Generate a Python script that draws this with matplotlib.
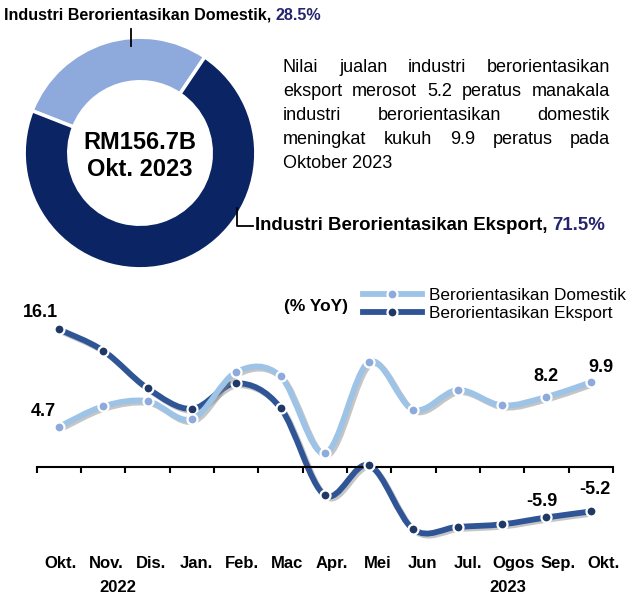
"""Donut of sales share plus smoothed YoY growth lines (domestic vs export)."""

import matplotlib

matplotlib.use("Agg")
import matplotlib.pyplot as plt
import numpy as np
from matplotlib import font_manager, patheffects
from matplotlib.lines import Line2D
from matplotlib.patches import PathPatch
from matplotlib.path import Path

months = ["Okt.", "Nov.", "Dis.", "Jan.", "Feb.", "Mac", "Apr.", "Mei",
          "Jun", "Jul.", "Ogos", "Sep.", "Okt."]
domestik = [4.7, 7.1, 7.7, 5.6, 11.1, 10.6, 1.6, 12.3, 6.7, 9.0, 7.2, 8.2, 9.9]
eksport = [16.1, 13.6, 9.2, 6.8, 9.8, 6.9, -3.3, 0.2, -7.3, -7.0, -6.7, -5.9, -5.2]
series_names = ["Berorientasikan Domestik", "Berorientasikan Eksport"]
years = ["2022", "2023"]

share_labels = ["Industri Berorientasikan Domestik", "Industri Berorientasikan Eksport"]
share_values = [28.5, 71.5]
total_lines = ["RM156.7B", "Okt. 2023"]

desc_lines = [
    "Nilai jualan industri berorientasikan",
    "eksport merosot 5.2 peratus manakala",
    "industri berorientasikan domestik",
    "meningkat kukuh 9.9 peratus pada",
    "Oktober 2023",
]

W, H = 637, 601
FONT = "Liberation Sans"
LIGHT_LINE = "#9DC3E6"
LIGHT_MARK = "#8EA9DB"
DARK_LINE = "#2F5597"
DARK_MARK = "#1F3864"
NAVY = "#0B2463"
PCT = "#25246E"

plt.rcParams["font.family"] = [FONT, "DejaVu Sans"]


def fx(px):
    return px / W


def fy(py):
    return 1 - py / H


def has_font(name):
    try:
        font_manager.findfont(name, fallback_to_default=False)
        return True
    except ValueError:
        return False


def smooth_path(xs, ys):
    pts = np.column_stack([xs, ys]).astype(float)
    ext = np.vstack([pts[0], pts, pts[-1]])
    verts = [pts[0]]
    codes = [Path.MOVETO]
    for i in range(len(pts) - 1):
        p0, p1, p2, p3 = ext[i], ext[i + 1], ext[i + 2], ext[i + 3]
        verts += [p1 + (p2 - p0) / 6, p2 - (p3 - p1) / 6, p2]
        codes += [Path.CURVE4] * 3
    return Path(verts, codes)


fig = plt.figure(figsize=(W / 100, H / 100), dpi=100)
renderer = fig.canvas.get_renderer()

# ---- donut ----
dax = fig.add_axes([fx(23), fy(270), 234 / W, 234 / H])
dax.pie(share_values, colors=[LIGHT_MARK, NAVY], startangle=56, counterclock=True,
        radius=1, wedgeprops=dict(width=0.385, edgecolor="white", linewidth=2.5))
dax.set_xlim(-1.01, 1.01)
dax.set_ylim(-1.01, 1.01)
dax.set_axis_off()

fig.text(fx(140), fy(142.5), total_lines[0], ha="center", va="center",
         fontsize=17, fontweight="bold")
fig.text(fx(140), fy(169), total_lines[1], ha="center", va="center",
         fontsize=17, fontweight="bold")

# leader lines
fig.add_artist(Line2D([fx(131), fx(131)], [fy(29), fy(46)], color="black", lw=1.3))
fig.add_artist(Line2D([fx(237), fx(237), fx(253)], [fy(208), fy(226), fy(226)],
                      color="black", lw=1.3))

if has_font("Liberation Sans Narrow"):
    dom_kw = dict(family=["Liberation Sans Narrow", FONT], fontsize=13.4)
else:
    dom_kw = dict(family=[FONT], fontsize=11.6)


def two_part_label(x, y, first, second, **kw):
    t1 = fig.text(fx(x), fy(y), first, ha="left", va="center", fontweight="bold", **kw)
    w = t1.get_window_extent(renderer).width
    fig.text(fx(x + w), fy(y), second, ha="left", va="center", fontweight="bold",
             color=PCT, **kw)


two_part_label(4, 15, f"{share_labels[0]}, ", f"{share_values[0]}%", **dom_kw)
two_part_label(255, 226, f"{share_labels[1]}, ", f"{share_values[1]}%", fontsize=13.4)

# ---- justified description ----
left, right = 283, 610
for k, line in enumerate(desc_lines):
    y = fy(68 + 23.8 * k)
    if k == len(desc_lines) - 1:
        fig.text(fx(left), y, line, ha="left", va="center", fontsize=13)
        continue
    words = line.split()
    texts = [fig.text(0, y, w, ha="left", va="center", fontsize=13) for w in words]
    widths = [t.get_window_extent(renderer).width for t in texts]
    gap = (right - left - sum(widths)) / (len(words) - 1)
    xpos = left
    for t, wd in zip(texts, widths):
        t.set_x(fx(xpos))
        xpos += wd + gap

# ---- line chart ----
ax = fig.add_axes([fx(36.8), fy(545), 576.1 / W, 255 / H])
x = np.arange(len(months))
ax.set_xlim(-0.5, len(months) - 0.5)
ax.set_ylim(-9.12, 20.7)

shadow = [patheffects.SimpleLineShadow(offset=(1.5, -1.5), shadow_color="#808080", alpha=0.45),
          patheffects.Normal()]

for vals, lc, mc, z in [(eksport, DARK_LINE, DARK_MARK, 2), (domestik, LIGHT_LINE, LIGHT_MARK, 4)]:
    ax.add_patch(PathPatch(smooth_path(x, vals), fill=False, edgecolor=lc, lw=4.2,
                           capstyle="round", joinstyle="round", path_effects=shadow, zorder=z))
    ax.plot(x, vals, "o", ms=7.2, mfc=mc, mec="white", mew=1.6, zorder=z + 1)

for s in ["top", "right", "left"]:
    ax.spines[s].set_visible(False)
ax.spines["bottom"].set_position(("data", 0))
ax.spines["bottom"].set_linewidth(1.5)
ax.set_xticks(np.arange(-0.5, len(months)))
ax.tick_params(axis="x", direction="out", length=4, width=1.5, labelbottom=False)
ax.set_yticks([])
ax.patch.set_visible(False)

# data labels
label_kw = dict(textcoords="offset points", ha="center", va="center",
                fontsize=13, fontweight="bold")
ax.annotate(f"{eksport[0]}", (0, eksport[0]), xytext=(-13, 12), **label_kw)
ax.annotate(f"{domestik[0]}", (0, domestik[0]), xytext=(-11.5, 11), **label_kw)
ax.annotate(f"{domestik[11]}", (11, domestik[11]), xytext=(0, 14.5), **label_kw)
ax.annotate(f"{domestik[12]}", (12, domestik[12]), xytext=(7.5, 11), **label_kw)
ax.annotate(f"{eksport[11]}", (11, eksport[11]), xytext=(-3, 11.5), **label_kw)
ax.annotate(f"{eksport[12]}", (12, eksport[12]), xytext=(3, 15.6), **label_kw)

# month labels on a slightly wider category scale
lab = fig.add_axes([fx(36.8), fy(556), 576.1 / W, 0.001])
lab.set_xlim(-0.535, 12.21)
lab.set_xticks(x)
lab.set_xticklabels(months, fontsize=12, fontweight="bold")
lab.tick_params(axis="x", length=0, pad=0)
lab.set_yticks([])
for s in lab.spines.values():
    s.set_visible(False)
lab.patch.set_visible(False)

fig.text(fx(117.5), fy(588), years[0], ha="center", va="center", fontsize=12, fontweight="bold")
fig.text(fx(508), fy(588), years[1], ha="center", va="center", fontsize=12, fontweight="bold")

# legend
handles = [
    Line2D([], [], color=LIGHT_LINE, lw=4.2, marker="o", ms=7.2, mfc=LIGHT_MARK, mec="white", mew=1.6),
    Line2D([], [], color=DARK_LINE, lw=4.2, marker="o", ms=7.2, mfc=DARK_MARK, mec="white", mew=1.6),
]
fig.legend(handles, series_names, loc="center left", bbox_to_anchor=(fx(363), fy(304.5)),
           bbox_transform=fig.transFigure, frameon=False, fontsize=12.4, handlelength=3.4,
           handletextpad=0.45, labelspacing=0.12, borderpad=0, borderaxespad=0, numpoints=1)
fig.text(fx(316.5), fy(306), "(% YoY)", ha="center", va="center", fontsize=12.5, fontweight="bold")

fig.savefig("out.png", dpi=100)
